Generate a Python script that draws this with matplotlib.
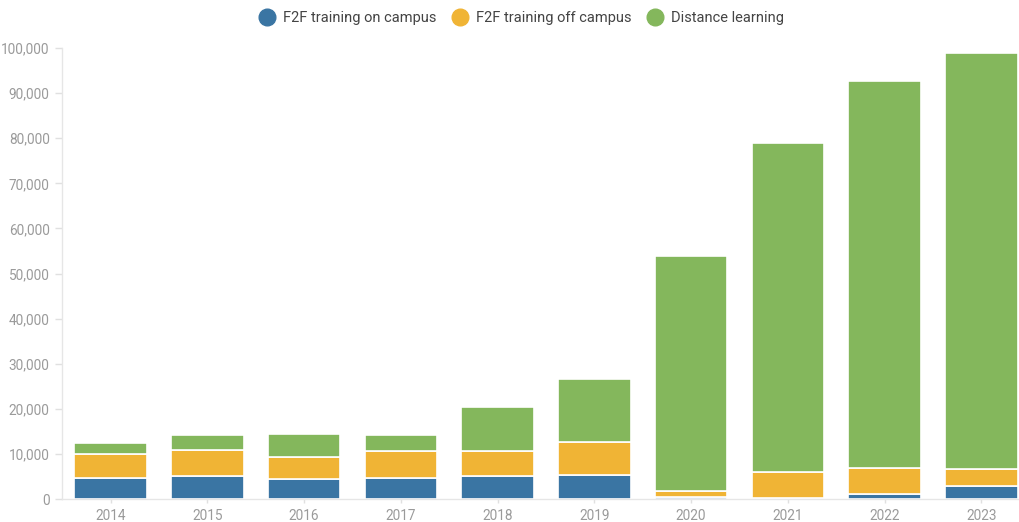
import numpy as np
import matplotlib
matplotlib.use("Agg")
from matplotlib import pyplot as plt
from matplotlib.lines import Line2D
from matplotlib.ticker import FuncFormatter

years = ["2014", "2015", "2016", "2017", "2018", "2019", "2020", "2021", "2022", "2023"]
on_campus = [4600, 5100, 4400, 4700, 5100, 5300, 400, 200, 1100, 2900]
off_campus = [5400, 5800, 4900, 5900, 5500, 7300, 1400, 5800, 5800, 3800]
distance = [2400, 3300, 5100, 3600, 9800, 14000, 52100, 72900, 85800, 92200]

series_names = ["F2F training on campus", "F2F training off campus", "Distance learning"]
colors = ["#3a75a3", "#f0b435", "#84b75c"]

plt.rcParams['font.family'] = ['Roboto', 'DejaVu Sans']

fig = plt.figure(figsize=(10.2, 5.22), dpi=100)
ax = fig.add_axes([0.061, 0.044, 0.939, 0.864])

x = np.arange(len(years))
bottom = np.zeros(len(years))
for vals, c in zip([on_campus, off_campus, distance], colors):
    ax.bar(x, vals, width=0.75, bottom=bottom, color=c, edgecolor="white", linewidth=1.2)
    bottom += np.array(vals)

ax.set_xlim(-0.5, 9.4)
ax.set_ylim(0, 100000)
ax.set_yticks(np.arange(0, 100001, 10000))
ax.yaxis.set_major_formatter(FuncFormatter(lambda v, p: f"{int(v):,}"))
ax.set_xticks(x)
ax.set_xticklabels(years)

for side in ["top", "right"]:
    ax.spines[side].set_visible(False)
for side in ["left", "bottom"]:
    ax.spines[side].set_color("#e6e6e6")
    ax.spines[side].set_linewidth(1)
ax.tick_params(axis="both", colors="#e0e0e0", labelcolor="#9a9a9a", labelsize=9.8, width=1)
ax.tick_params(axis="y", length=5, pad=4)
ax.tick_params(axis="x", length=3, pad=4)

handles = [Line2D([], [], marker="o", linestyle="", markersize=12, color=c) for c in colors]
fig.legend(handles, series_names, loc="center", bbox_to_anchor=(0.508, 0.966), ncol=3,
           frameon=False, fontsize=10.5, handletextpad=0.1, columnspacing=0.6,
           labelcolor="#444444")

fig.savefig("out.png", dpi=100)
